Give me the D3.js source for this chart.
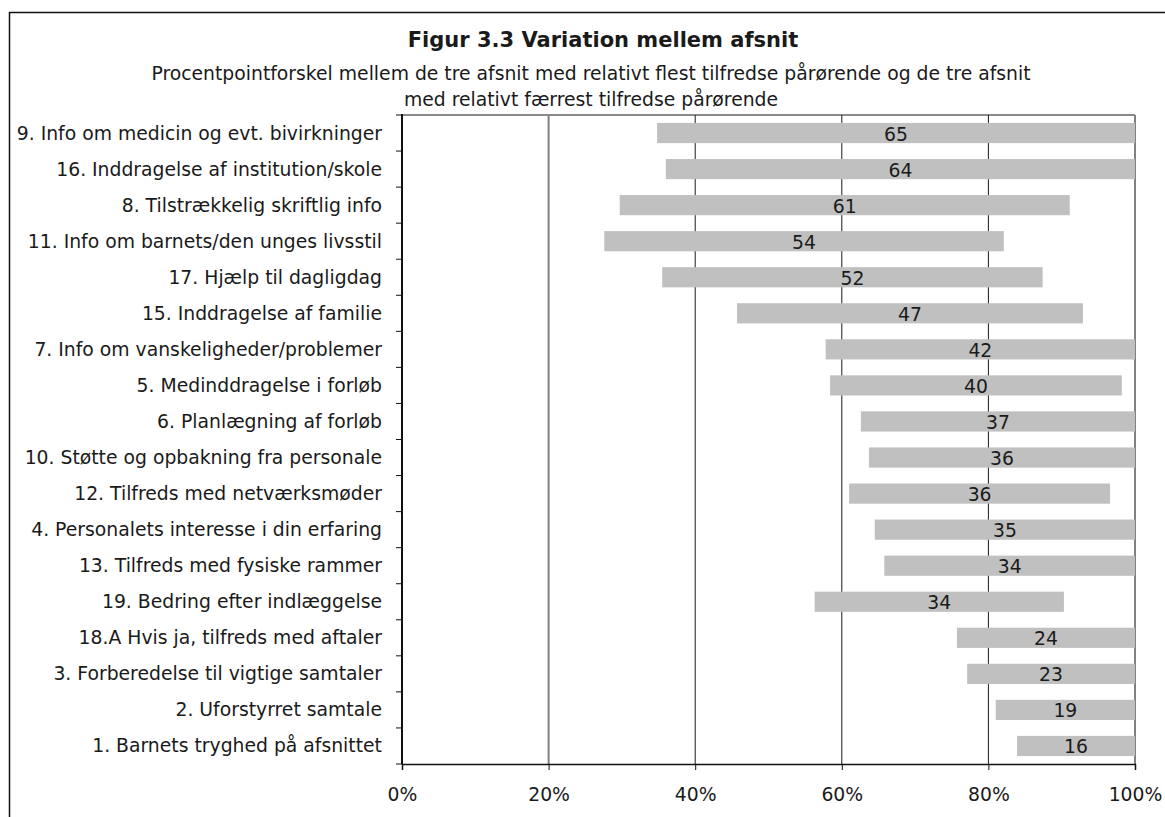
<!DOCTYPE html>
<html>
<head>
<meta charset="utf-8">
<script src="https://cdn.jsdelivr.net/npm/d3@7"></script>
<style>
  html, body { margin: 0; padding: 0; background: #fff; }
  svg { display: block; }
  text { font-family: "DejaVu Sans", "Liberation Sans", sans-serif; fill: #1a1a1a; }
</style>
</head>
<body>
<svg id="chart" width="1165" height="817"></svg>
<script>
const titleText = "Figur 3.3 Variation mellem afsnit";
const subtitleLines = [
  "Procentpointforskel mellem de tre afsnit med relativt flest tilfredse pårørende og de tre afsnit",
  "med relativt færrest tilfredse pårørende"
];

const categories = [
  "9. Info om medicin og evt. bivirkninger",
  "16. Inddragelse af institution/skole",
  "8. Tilstrækkelig skriftlig info",
  "11. Info om barnets/den unges livsstil",
  "17. Hjælp til dagligdag",
  "15. Inddragelse af familie",
  "7. Info om vanskeligheder/problemer",
  "5. Medinddragelse i forløb",
  "6. Planlægning af forløb",
  "10. Støtte og opbakning fra personale",
  "12. Tilfreds med netværksmøder",
  "4. Personalets interesse i din erfaring",
  "13. Tilfreds med fysiske rammer",
  "19. Bedring efter indlæggelse",
  "18.A Hvis ja, tilfreds med aftaler",
  "3. Forberedelse til vigtige samtaler",
  "2. Uforstyrret samtale",
  "1. Barnets tryghed på afsnittet"
];
// lowest (start) and highest (end) share of satisfied relatives, in %
const lowValues  = [34.8, 36.0, 29.7, 27.6, 35.5, 45.7, 57.8, 58.4, 62.6, 63.7, 61.0, 64.5, 65.8, 56.3, 75.7, 77.1, 81.0, 83.9];
const highValues = [100, 100, 91.1, 82.1, 87.4, 92.9, 100, 98.2, 100, 100, 96.6, 100, 100, 90.3, 100, 100, 100, 100];
// printed difference labels (percentage points)
const diffLabels = [65, 64, 61, 54, 52, 47, 42, 40, 37, 36, 36, 35, 34, 34, 24, 23, 19, 16];
const xTicks = [0, 20, 40, 60, 80, 100];

const data = categories.map((c, i) => ({ cat: c, lo: lowValues[i], hi: highValues[i], lab: diffLabels[i] }));

const svg = d3.select("#chart");
const pL = 402, pR = 1135, pT = 115, pB = 764;
const fs = 18.8;

const x = d3.scaleLinear().domain([0, 100]).range([pL, pR]);
const y = d3.scaleBand().domain(categories).range([pT, pB]).paddingInner(0.44).paddingOuter(0.22);

// outer frame
svg.append("path")
  .attr("d", "M1165,12.5 H9.5 V817")
  .attr("fill", "none").attr("stroke", "#111").attr("stroke-width", 1.5);

// title
svg.append("text").attr("x", 603).attr("y", 47).attr("text-anchor", "middle")
  .attr("font-size", 21).attr("font-weight", "bold").text(titleText);
svg.selectAll("text.sub").data(subtitleLines).join("text").attr("class", "sub")
  .attr("x", 591).attr("y", (d, i) => 80 + i * 26).attr("text-anchor", "middle")
  .attr("font-size", fs).text(d => d);

// plot frame top (gray)
svg.append("line").attr("x1", pL).attr("x2", pR).attr("y1", pT).attr("y2", pT)
  .attr("stroke", "#8a8a8a").attr("stroke-width", 2);

// gridlines
svg.append("g").selectAll("line").data(xTicks.filter(t => t > 0)).join("line")
  .attr("x1", d => x(d)).attr("x2", d => x(d)).attr("y1", pT).attr("y2", pB)
  .attr("stroke", d => (d === 20 || d === 100) ? "#808080" : "#1a1a1a")
  .attr("stroke-width", d => (d === 20 || d === 100) ? 2 : 1);

// bars
svg.append("g").selectAll("rect").data(data).join("rect")
  .attr("x", d => x(d.lo)).attr("width", d => x(d.hi) - x(d.lo))
  .attr("y", d => y(d.cat)).attr("height", y.bandwidth())
  .attr("fill", "#c0c0c0");

// value labels
svg.append("g").selectAll("text").data(data).join("text")
  .attr("x", d => (x(d.lo) + x(d.hi)) / 2)
  .attr("y", d => y(d.cat) + y.bandwidth() / 2 + 1)
  .attr("text-anchor", "middle").attr("dominant-baseline", "central")
  .attr("font-size", fs).text(d => d.lab);

// x axis
const xAxis = svg.append("g").attr("transform", `translate(0,${pB})`)
  .call(d3.axisBottom(x).tickValues(xTicks).tickFormat(d => d + "%").tickSize(6).tickPadding(18));
xAxis.select(".domain").attr("stroke", "#111").attr("stroke-width", 1.5);
xAxis.selectAll(".tick line").attr("stroke", "#111");
xAxis.selectAll("text").attr("font-size", fs).attr("fill", "#1a1a1a").attr("font-family", null);

// y axis: ticks at band boundaries
const boundaries = d3.range(categories.length + 1).map(i => pT + i * (pB - pT) / categories.length);
svg.append("line").attr("x1", pL).attr("x2", pL).attr("y1", pT - 1).attr("y2", pB)
  .attr("stroke", "#111").attr("stroke-width", 2);
svg.append("g").selectAll("line").data(boundaries).join("line")
  .attr("x1", pL - 6).attr("x2", pL).attr("y1", d => d).attr("y2", d => d)
  .attr("stroke", "#111").attr("stroke-width", 1);

// category labels
svg.append("g").selectAll("text").data(data).join("text")
  .attr("x", 382).attr("y", d => y(d.cat) + y.bandwidth() / 2)
  .attr("text-anchor", "end").attr("dominant-baseline", "central")
  .attr("font-size", fs).text(d => d.cat);
</script>
</body>
</html>
